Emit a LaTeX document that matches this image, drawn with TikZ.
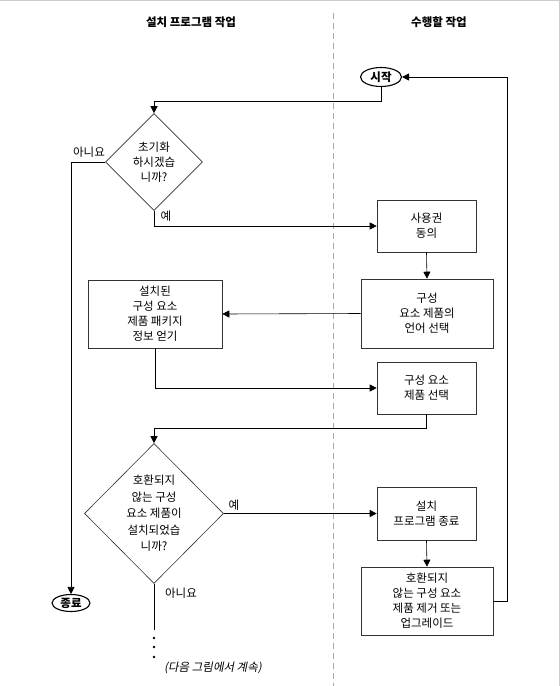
\documentclass[tikz,border=0pt]{standalone}
\usepackage{fontspec}
\setmainfont{Noto Sans CJK KR}
\newfontfamily\krit[FakeSlant=0.2]{Noto Sans CJK KR}
\usetikzlibrary{shapes.geometric,arrows.meta}
\begin{document}
\begin{tikzpicture}[x=1pt,y=-1pt,
  every node/.style={font=\fontsize{11.5pt}{15pt}\selectfont, align=center, text=black},
  box/.style={draw=black!80, line width=0.6pt, rectangle, inner sep=0pt},
  dia/.style={draw=black!80, line width=0.6pt, diamond, inner sep=0pt},
  term/.style={draw=black, line width=1.1pt, ellipse, inner sep=0pt, font=\fontsize{11.5pt}{13pt}\selectfont\bfseries},
  hdr/.style={font=\fontsize{11.5pt}{14pt}\selectfont\bfseries},
  lbl/.style={inner sep=0pt},
  conn/.style={draw=black, line width=0.6pt},
  arr/.style={conn, -{Triangle[length=7pt,width=7pt]}},
  dashsep/.style={draw=black!35, line width=0.7pt, dash pattern=on 6pt off 4pt},
  frame/.style={draw=black!20, line width=1pt}
]
\useasboundingbox (0,0) rectangle (560,686);
\draw[frame] (0,0.5) -- (559,0.5) -- (559,686);
\draw[dashsep] (333,13) -- (333,686);

\node[hdr] (hdrL) at (191,22) {설치 프로그램 작업};
\node[hdr] (hdrR) at (439,22) {수행할 작업};

\node[term, minimum width=41pt, minimum height=19pt] (start) at (381,77) {시작};
\node[term, minimum width=38pt, minimum height=17pt] (stop) at (71,603) {종료};

\node[dia, minimum width=97pt, minimum height=97pt] (d1) at (154,162) {초기화\\하시겠습\\니까?};
\node[box, minimum width=99pt, minimum height=52pt] (b1) at (426.5,226) {사용권\\동의};
\node[box, minimum width=132pt, minimum height=69pt] (b2) at (427,313.5) {구성\\요소 제품의\\언어 선택};
\node[box, minimum width=134pt, minimum height=68pt] (bL) at (155,314) {설치된\\구성 요소\\제품 패키지\\정보 얻기};
\node[box, minimum width=99pt, minimum height=52pt] (b3) at (426.5,388) {구성 요소\\제품 선택};
\node[dia, minimum width=139pt, minimum height=140pt, font=\fontsize{11.5pt}{16.5pt}\selectfont] (d2) at (154,513.5) {호환되지\\않는 구성\\요소 제품이\\설치되었습\\니까?};
\node[box, minimum width=99pt, minimum height=53pt] (b4) at (426.5,513.5) {설치\\프로그램 종료};
\node[box, minimum width=132pt, minimum height=68pt] (b5) at (427,601) {호환되지\\않는 구성 요소\\제품 제거 또는\\업그레이드};

\node[lbl] (no1) at (89,152) {아니요};
\node[lbl] (yes1) at (166,216) {예};
\node[lbl] (yes2) at (234,505) {예};
\node[lbl] (no2) at (181,593) {아니요};
\node[lbl, font=\fontsize{11.5pt}{13pt}\krit] (cont) at (213,668) {(다음 그림에서 계속)};

\coordinate (j1) at (154,101);
\coordinate (j2) at (154,428);
\coordinate (j4) at (154,630);

\draw[arr] (start.south) |- (j1) -- (d1.north);
\draw[arr] (d1.west) -| (stop.north);
\draw[arr] (d1.south) |- (b1.west);
\draw[arr] (b1.south) -- (b2.north);
\draw[arr] (b2.west) -- (bL.east);
\draw[arr] (bL.south) |- (b3.west);
\draw[arr] (b3.south) |- (j2) -- (d2.north);
\draw[arr] (d2.east) -- (d2.east -| b4.west);
\draw[arr] (b4.south) -- (b5.north);
\draw[arr] (b5.east) -- ++(14,0) |- (start.east);
\draw[conn] (d2.south) -- (j4);
\foreach \yy in {638,647,657} \fill (154,\yy) circle (1.3pt);
\end{tikzpicture}
\end{document}
